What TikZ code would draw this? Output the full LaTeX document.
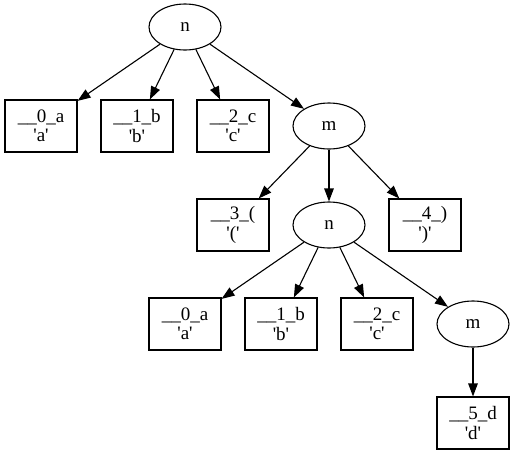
\documentclass[tikz,border=0pt]{standalone}
\usepackage{fontspec}
\setmainfont{Liberation Serif}[Ligatures=TeXOff]
\usetikzlibrary{shapes.geometric,arrows.meta}
\begin{document}
\begin{tikzpicture}[x=1pt,y=-1pt,
  every node/.style={font=\fontsize{19}{19.5}\selectfont, inner sep=0pt, line width=1.1pt},
  leaf/.style={draw, rectangle, minimum width=72pt, minimum height=52pt, align=center},
  inner/.style={draw, ellipse, minimum width=72pt, minimum height=46pt},
  edge/.style={draw, line width=1.1pt, -{Triangle[length=13pt,width=9.5pt]}}]
\useasboundingbox (0,0) rectangle (515,453);
\node[inner] (n1) at (185,27) {n};
\node[leaf] (a1) at (41,126) {\_\_0\_a\\'a'};
\node[leaf] (b1) at (137,126) {\_\_1\_b\\'b'};
\node[leaf] (c1) at (233,126) {\_\_2\_c\\'c'};
\node[inner] (m1) at (329,126) {m};
\node[leaf] (lp) at (233,225) {\_\_3\_(\\'('};
\node[inner] (n2) at (329,225) {n};
\node[leaf] (rp) at (425,225) {\_\_4\_)\\')'};
\node[leaf] (a2) at (185,324) {\_\_0\_a\\'a'};
\node[leaf] (b2) at (281,324) {\_\_1\_b\\'b'};
\node[leaf] (c2) at (377,324) {\_\_2\_c\\'c'};
\node[inner] (m2) at (473,324) {m};
\node[leaf] (d2) at (473,423) {\_\_5\_d\\'d'};
\path[edge] (n1) -- (a1);
\path[edge] (n1) -- (b1);
\path[edge] (n1) -- (c1);
\path[edge] (n1) -- (m1);
\path[edge] (m1) -- (lp);
\path[edge] (m1) -- (n2);
\path[edge] (m1) -- (rp);
\path[edge] (n2) -- (a2);
\path[edge] (n2) -- (b2);
\path[edge] (n2) -- (c2);
\path[edge] (n2) -- (m2);
\path[edge] (m2) -- (d2);
\end{tikzpicture}
\end{document}
